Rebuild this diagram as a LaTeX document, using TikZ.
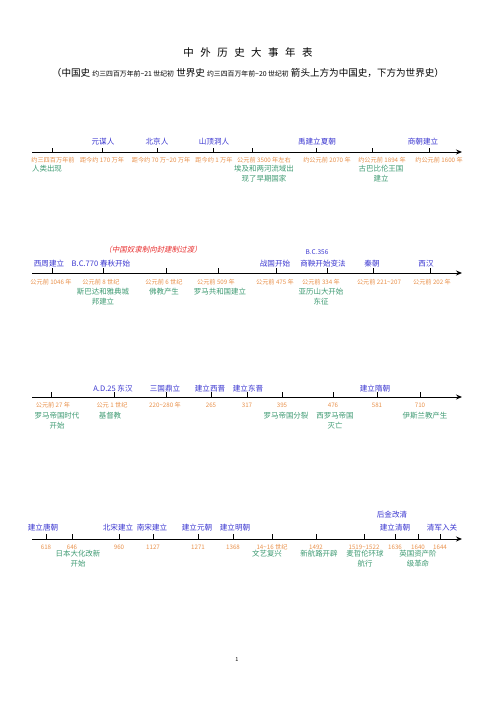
\documentclass[tikz,border=0pt]{standalone}
\usepackage{fontspec}
\setmainfont{Noto Sans CJK SC}
\newfontfamily\cjkslant[FakeSlant=0.22]{Noto Sans CJK SC}
\usetikzlibrary{arrows.meta}
\definecolor{cnblue}{HTML}{3A36D0}
\definecolor{yrorange}{HTML}{E8904A}
\definecolor{evgreen}{HTML}{3E9A72}
\definecolor{redtxt}{HTML}{E83030}
\tikzset{
  axis/.style={line width=0.9bp, -{Stealth[length=6bp,width=5bp]}},
  tk/.style={line width=0.9bp},
  cn/.style={text=cnblue, font=\fontsize{7.6}{9}\selectfont, inner sep=0pt, text height=0.8em, text depth=0.1em, anchor=center},
  yr/.style={text=yrorange, font=\fontsize{6.2}{8}\selectfont, inner sep=0pt, text height=0.8em, text depth=0.1em, anchor=center},
  ev/.style={text=evgreen, font=\fontsize{7.5}{9.6}\selectfont, inner sep=0pt, align=center, anchor=north},
}
\begin{document}
\begin{tikzpicture}[x=1bp,y=-1bp]
\useasboundingbox (0,0) rectangle (496,702);
% title
\node[font=\fontsize{10.5}{12}\selectfont, inner sep=0pt] (title) at (248,53) {中\hspace{0.62em}外\hspace{0.62em}历\hspace{0.62em}史\hspace{0.62em}大\hspace{0.62em}事\hspace{0.62em}年\hspace{0.62em}表};
\node[inner sep=0pt] (sub) at (248,73) {\fontsize{9.6}{11}\selectfont （中国史 {\fontsize{6.9}{8}\selectfont 约三四百万年前\textasciitilde 21 世纪初} 世界史 {\fontsize{6.9}{8}\selectfont 约三四百万年前\textasciitilde 20 世纪初} 箭头上方为中国史，下方为世界史）};

% ===== timeline 1 =====
\coordinate (s1) at (32,152); \coordinate (e1) at (462,152);
\draw[axis] (s1) -- (e1);
\foreach \x in {52,102,157,213,252,316,372,429} \draw[tk] (\x,152) -- (\x,148);
\node[cn] (a1) at (103,141) {元谋人};
\node[cn] (a2) at (157,141) {北京人};
\node[cn] (a3) at (214,141) {山顶洞人};
\node[cn] (a4) at (317,141) {禹建立夏朝};
\node[cn] (a5) at (423,141) {商朝建立};
\node[yr] (b1) at (53,159) {约三四百万年前};
\node[yr] (b2) at (102,159) {距今约 170 万年};
\node[yr] (b3) at (161,159) {距今约 70 万\textasciitilde 20 万年};
\node[yr] (b4) at (214,159) {距今约 1 万年};
\node[yr] (b5) at (264,159) {公元前 3500 年左右};
\node[yr] (b6) at (327,159) {约公元前 2070 年};
\node[yr] (b7) at (382,159) {约公元前 1894 年};
\node[yr] (b8) at (439,159) {约公元前 1600 年};
\node[ev] (c1) at (47,165) {人类出现};
\node[ev] (c2) at (264,165) {埃及和两河流域出\\现了早期国家};
\node[ev] (c3) at (381,165) {古巴比伦王国\\建立};

% ===== timeline 2 =====
\coordinate (s2) at (32,273); \coordinate (e2) at (462,273);
\draw[axis] (s2) -- (e2);
\foreach \x in {52,103,166,218,276,327,373,430} \draw[tk] (\x,273) -- (\x,268);
\node[text=redtxt, font=\fontsize{7.5}{9}\selectfont\cjkslant, inner sep=0pt] (red) at (153,250) {（中国奴隶制向封建制过渡）};
\node[cn] (d1) at (49,263) {西周建立};
\node[cn] (d2) at (101,263) {B.C.770 春秋开始};
\node[cn] (d3) at (275,263) {战国开始};
\node[cn, font=\fontsize{6.5}{8}\selectfont] (d4a) at (317,251) {B.C.356};
\node[cn] (d4) at (323,263) {商鞅开始变法};
\node[cn] (d5) at (372,263) {秦朝};
\node[cn] (d6) at (426,263) {西汉};
\node[yr] (f1) at (51,281) {公元前 1046 年};
\node[yr] (f2) at (101,281) {公元前 8 世纪};
\node[yr] (f3) at (164,281) {公元前 6 世纪};
\node[yr] (f4) at (216,281) {公元前 509 年};
\node[yr] (f5) at (275,281) {公元前 475 年};
\node[yr] (f6) at (321,281) {公元前 334 年};
\node[yr] (f7) at (379,281) {公元前 221\textasciitilde 207};
\node[yr] (f8) at (432,281) {公元前 202 年};
\node[ev] (g1) at (103,288) {斯巴达和雅典城\\邦建立};
\node[ev] (g2) at (164,288) {佛教产生};
\node[ev] (g3) at (220,288) {罗马共和国建立};
\node[ev] (g4) at (321,288) {亚历山大开始\\东征};

% ===== timeline 3 =====
\coordinate (s3) at (32,397); \coordinate (e3) at (462,397);
\draw[axis] (s3) -- (e3);
\foreach \x in {51,114,166,211,247,282,333,377,420} \draw[tk] (\x,397) -- (\x,392);
\node[cn] (h1) at (113,388) {A.D.25 东汉};
\node[cn] (h2) at (165,388) {三国鼎立};
\node[cn] (h3) at (210,388) {建立西晋};
\node[cn] (h4) at (248,388) {建立东晋};
\node[cn] (h5) at (375,388) {建立隋朝};
\node[yr] (i1) at (53,404) {公元前 27 年};
\node[yr] (i2) at (112,404) {公元 1 世纪};
\node[yr] (i3) at (165,404) {220\textasciitilde 280 年};
\node[yr] (i4) at (211,404) {265};
\node[yr] (i5) at (247,404) {317};
\node[yr] (i6) at (282,404) {395};
\node[yr] (i7) at (333,404) {476};
\node[yr] (i8) at (377,404) {581};
\node[yr] (i9) at (420,404) {710};
\node[ev] (j1) at (57,412) {罗马帝国时代\\开始};
\node[ev] (j2) at (110,412) {基督教};
\node[ev] (j3) at (286,412) {罗马帝国分裂};
\node[ev] (j4) at (335,412) {西罗马帝国\\灭亡};
\node[ev] (j5) at (425,412) {伊斯兰教产生};

% ===== timeline 4 =====
\coordinate (s4) at (32,539); \coordinate (e4) at (462,539);
\draw[axis] (s4) -- (e4);
\foreach \x in {46,72,119,153,198,233,272,316,364,395,418,440} \draw[tk] (\x,539) -- (\x,534);
\node[cn] (k1) at (43,527) {建立唐朝};
\node[cn] (k2) at (118,527) {北宋建立};
\node[cn] (k3) at (152,527) {南宋建立};
\node[cn] (k4) at (197,527) {建立元朝};
\node[cn] (k5) at (235,527) {建立明朝};
\node[cn] (k6a) at (392,514) {后金改清};
\node[cn] (k6) at (395,527) {建立清朝};
\node[cn] (k7) at (442,527) {清军入关};
\node[yr] (l1) at (46,546) {618};
\node[yr] (l2) at (72,546) {646};
\node[yr] (l3) at (119,546) {960};
\node[yr] (l4) at (153,546) {1127};
\node[yr] (l5) at (198,546) {1271};
\node[yr] (l6) at (233,546) {1368};
\node[yr] (l7) at (272,546) {14\textasciitilde 16 世纪};
\node[yr] (l8) at (316,546) {1492};
\node[yr] (l9) at (364,546) {1519\textasciitilde 1522};
\node[yr] (l10) at (395,546) {1636};
\node[yr] (l11) at (418,546) {1640};
\node[yr] (l12) at (440,546) {1644};
\node[ev] (m1) at (78,550) {日本大化改新\\开始};
\node[ev] (m2) at (267,550) {文艺复兴};
\node[ev] (m3) at (319,550) {新航路开辟};
\node[ev] (m4) at (365,550) {麦哲伦环球\\航行};
\node[ev] (m5) at (418,550) {英国资产阶\\级革命};

\node[font=\fontsize{5.5}{7}\selectfont, inner sep=0pt] (pg) at (237,660) {1};
\end{tikzpicture}
\end{document}
